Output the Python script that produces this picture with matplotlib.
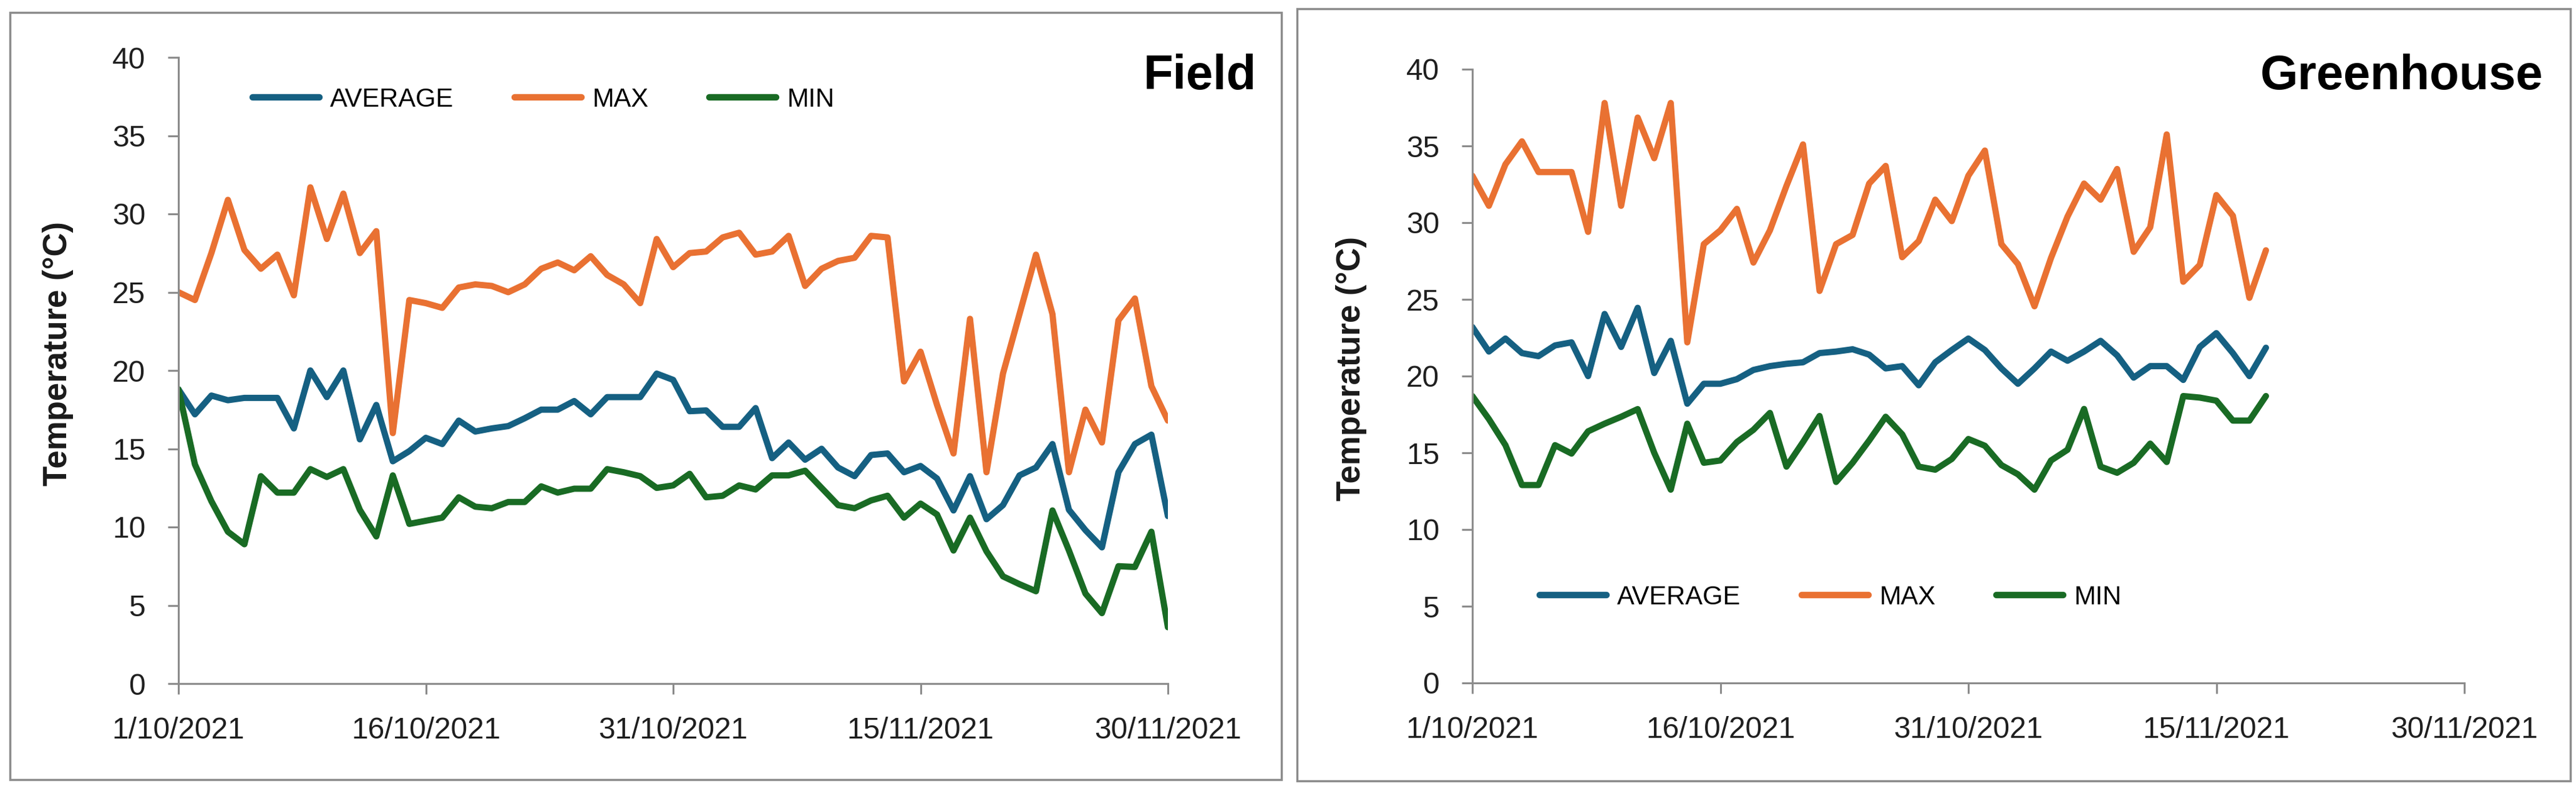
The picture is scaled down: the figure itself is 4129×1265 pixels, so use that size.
import pandas as pd
import matplotlib
matplotlib.use("Agg")
import matplotlib.pyplot as plt
import matplotlib.font_manager as fm
from matplotlib.patches import Rectangle

# daily temperatures
field_dates = pd.date_range("2021-10-01", "2021-11-30")
field_avg = [18.8, 17.2, 18.4, 18.1, 18.25, 18.25, 18.25, 16.3, 20.0, 18.3,
             20.0, 15.6, 17.8, 14.2, 14.85, 15.7, 15.3, 16.8, 16.1, 16.3,
             16.45, 16.95, 17.5, 17.5, 18.05, 17.2, 18.3, 18.3, 18.3, 19.8,
             19.4, 17.4, 17.45, 16.4, 16.4, 17.6, 14.4, 15.4, 14.3, 15.0,
             13.8, 13.25, 14.6, 14.7, 13.5, 13.9, 13.1, 11.06, 13.25, 10.5,
             11.4, 13.3, 13.8, 15.3, 11.1, 9.8, 8.7, 13.5, 15.3, 15.9, 10.7]
field_max = [25.0, 24.5, 27.5, 30.9, 27.7, 26.5, 27.4, 24.8, 31.7, 28.4,
             31.3, 27.5, 28.9, 16.0, 24.5, 24.3, 24.0, 25.3, 25.5, 25.4,
             25.0, 25.5, 26.5, 26.9, 26.4, 27.3, 26.1, 25.5, 24.3, 28.4,
             26.6, 27.5, 27.6, 28.5, 28.8, 27.4, 27.6, 28.6, 25.4, 26.5,
             27.0, 27.2, 28.6, 28.5, 19.3, 21.2, 17.8, 14.7, 23.3, 13.5,
             19.8, 23.6, 27.4, 23.6, 13.5, 17.5, 15.4, 23.2, 24.6, 19.0, 16.8]
field_min = [18.8, 14.0, 11.65, 9.7, 8.9, 13.25, 12.2, 12.2, 13.7, 13.2,
             13.7, 11.1, 9.4, 13.3, 10.2, 10.4, 10.6, 11.9, 11.3, 11.2,
             11.6, 11.6, 12.6, 12.2, 12.45, 12.45, 13.7, 13.5, 13.25, 12.5,
             12.66, 13.4, 11.9, 12.0, 12.66, 12.4, 13.3, 13.3, 13.6, 12.5,
             11.4, 11.2, 11.7, 12.0, 10.6, 11.5, 10.8, 8.5, 10.6, 8.45,
             6.85, 6.35, 5.9, 11.06, 8.5, 5.75, 4.5, 7.5, 7.45, 9.7, 3.6]

gh_dates = pd.date_range("2021-10-01", "2021-11-18")
gh_avg = [23.2, 21.6, 22.45, 21.5, 21.3, 22.0, 22.2, 20.0, 24.05, 21.9,
          24.45, 20.2, 22.3, 18.2, 19.5, 19.5, 19.8, 20.4, 20.65, 20.8,
          20.9, 21.5, 21.6, 21.75, 21.4, 20.5, 20.65, 19.4, 20.9, 21.7,
          22.45, 21.7, 20.5, 19.5, 20.5, 21.6, 21.0, 21.6, 22.3, 21.35,
          19.9, 20.65, 20.65, 19.75, 21.9, 22.8, 21.5, 20.0, 21.85]
gh_max = [33.06, 31.1, 33.8, 35.3, 33.3, 33.3, 33.3, 29.4, 37.8, 31.1,
          36.85, 34.2, 37.8, 22.2, 28.6, 29.5, 30.9, 27.4, 29.5, 32.4,
          35.1, 25.55, 28.6, 29.2, 32.55, 33.7, 27.75, 28.8, 31.5, 30.1,
          33.06, 34.7, 28.6, 27.3, 24.55, 27.7, 30.4, 32.55, 31.5, 33.5,
          28.1, 29.7, 35.75, 26.15, 27.25, 31.8, 30.45, 25.1, 28.2]
gh_min = [18.7, 17.2, 15.5, 12.9, 12.9, 15.5, 14.95, 16.4, 16.9, 17.35,
          17.85, 15.0, 12.6, 16.9, 14.35, 14.5, 15.7, 16.5, 17.6, 14.1,
          15.7, 17.4, 13.1, 14.35, 15.8, 17.35, 16.2, 14.1, 13.9, 14.6,
          15.9, 15.46, 14.2, 13.6, 12.6, 14.5, 15.2, 17.86, 14.1, 13.7,
          14.35, 15.6, 14.4, 18.7, 18.6, 18.4, 17.1, 17.1, 18.7]

tick_dates = pd.to_datetime(["2021-10-01", "2021-10-16", "2021-10-31",
                             "2021-11-15", "2021-11-30"])
tick_labels = ["1/10/2021", "16/10/2021", "31/10/2021", "15/11/2021", "30/11/2021"]
series_names = ["AVERAGE", "MAX", "MIN"]
colors = ["#156082", "#E97132", "#196B24"]

installed = {f.name for f in fm.fontManager.ttflist}
if "Liberation Sans Narrow" in installed:
    narrow, leg_size, title_size = "Liberation Sans Narrow", 36, 66
else:
    narrow, leg_size, title_size = "Liberation Sans", 30, 56

plt.rcParams["font.family"] = ["Liberation Sans", "DejaVu Sans"]

W, H = 4129, 1265
fig = plt.figure(figsize=(W / 100, H / 100), dpi=100)

# outer grey frames around each chart
for x0, y0, x1, y1 in [(16, 20, 2054, 1250), (2079, 14, 4120, 1252)]:
    fig.patches.append(Rectangle((x0 / W, 1 - y1 / H), (x1 - x0) / W, (y1 - y0) / H,
                                 transform=fig.transFigure, fill=False,
                                 edgecolor="#8c8c8c", linewidth=2.5))

panels = [
    dict(rect=[286 / W, 1 - 1096 / H, (1872 - 286) / W, (1096 - 92) / H],
         dates=field_dates, data=[field_avg, field_max, field_min],
         title="Field", title_x=2014, leg=(405, 160), ylab_y=0.527),
    dict(rect=[2360 / W, 1 - 1095 / H, (3950 - 2360) / W, (1095 - 111) / H],
         dates=gh_dates, data=[gh_avg, gh_max, gh_min],
         title="Greenhouse", title_x=4076, leg=(2468, 958), ylab_y=0.512),
]

em = leg_size * 100 / 72  # legend font size in pixels

for p in panels:
    ax = fig.add_axes(p["rect"])
    handles = []
    for name, vals, c in zip(series_names, p["data"], colors):
        ln, = ax.plot(p["dates"], vals, color=c, lw=7.2, label=name,
                      solid_joinstyle="round", solid_capstyle="round")
        handles.append(ln)

    ax.set_xlim(tick_dates[0], tick_dates[-1])
    ax.set_ylim(0, 40)
    ax.set_yticks(range(0, 41, 5))
    ax.set_xticks(tick_dates)
    ax.set_xticklabels(tick_labels)
    for s in ["top", "right"]:
        ax.spines[s].set_visible(False)
    for s in ["left", "bottom"]:
        ax.spines[s].set_color("#8c8c8c")
        ax.spines[s].set_linewidth(2.2)
    ax.tick_params(direction="out", length=12, width=2.2, color="#8c8c8c",
                   labelsize=34.5, labelcolor="#1f1f1f", pad=26)
    for lab in ax.get_xticklabels() + ax.get_yticklabels():
        lab.set_clip_on(False)

    ax.set_ylabel("Temperature (°C)", fontsize=38, fontweight="bold",
                  color="#1a1a1a", va="center")
    ax.yaxis.set_label_coords(-0.1217, p["ylab_y"])

    fig.text(p["title_x"] / W, 1 - 143 / H, p["title"], ha="right", va="baseline",
             fontsize=title_size, fontweight="bold", family=narrow, color="black")

    lx, ly = p["leg"]
    leg = fig.legend(handles=handles, loc="center left",
                     bbox_to_anchor=(lx / W, 1 - ly / H), bbox_transform=fig.transFigure,
                     ncol=3, frameon=False, borderpad=0, borderaxespad=0,
                     handlelength=107 / em, handletextpad=17 / em,
                     columnspacing=98 / em,
                     prop={"family": narrow, "size": leg_size})
    for lh in leg.get_lines():
        lh.set_linewidth(7.5)

fig.savefig("out.png", dpi=100, facecolor="white")
